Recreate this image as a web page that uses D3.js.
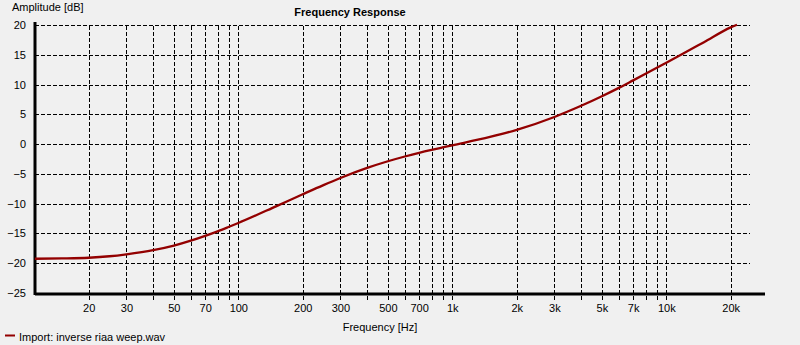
<!DOCTYPE html>
<html>
<head>
<meta charset="utf-8">
<script src="https://cdn.jsdelivr.net/npm/d3@7/dist/d3.min.js"></script>
<style>
  html, body { margin: 0; padding: 0; background: #f0f0f0; }
  svg { display: block; }
  text { font-family: "Liberation Sans", Arial, sans-serif; font-size: 11px; fill: #000; }
</style>
</head>
<body>
<svg id="chart" width="800" height="345"></svg>
<script>
// Measured response of the inverse RIAA sweep (frequency in Hz, level in dB)
const freqs = [11.2, 15, 20, 25, 30, 40, 50, 60, 70, 80, 90, 100, 150, 200, 250, 300,
  400, 500, 600, 700, 800, 900, 1000, 1500, 2000, 3000, 4000, 5000, 6000, 7000,
  8000, 9000, 10000, 12000, 15000, 20000, 21400];
const levels = [-19.25, -19.2, -19.08, -18.83, -18.5, -17.82, -17.05, -16.22, -15.41, -14.65,
  -13.92, -13.25, -10.45, -8.42, -6.88, -5.69, -4.0, -2.88, -2.08, -1.46, -0.97, -0.56, -0.2,
  1.2, 2.39, 4.56, 6.43, 8.03, 9.44, 10.7, 11.8, 12.78, 13.66, 15.2, 17.12, 19.6, 20.05];

// Grid frequencies and the subset that carries labels
const gridFreqs = [20, 30, 40, 50, 60, 70, 80, 90, 100, 200, 300, 400, 500, 600, 700, 800, 900,
  1000, 2000, 3000, 4000, 5000, 6000, 7000, 8000, 9000, 10000, 20000];
const freqTicks = [20, 30, 50, 70, 100, 200, 300, 500, 700, 1000, 2000, 3000, 5000, 7000, 10000, 20000];
const freqTickLabels = ["20", "30", "50", "70", "100", "200", "300", "500", "700", "1k", "2k", "3k", "5k", "7k", "10k", "20k"];
const dbTicks = [20, 15, 10, 5, 0, -5, -10, -15, -20, -25];

const seriesName = "Import: inverse riaa weep.wav";

const svg = d3.select("#chart");
const plotLeft = 35, plotRight = 750, plotTop = 25, plotBottom = 293;

const x = d3.scaleLog().domain([11.22, 24610]).range([plotLeft, plotRight]);
const y = d3.scaleLinear().domain([-25, 20]).range([plotBottom, plotTop]);

// Vertical dashed grid (extends a little below the axis as tick marks)
const vGrid = svg.append("g")
  .attr("transform", `translate(0,${plotBottom + 7})`)
  .call(d3.axisTop(x).tickValues(gridFreqs).tickSize(plotBottom + 7 - plotTop).tickFormat(""));
vGrid.select(".domain").remove();
vGrid.selectAll("line").attr("stroke", "#000").attr("stroke-dasharray", "4,2").attr("shape-rendering", "crispEdges");

// Horizontal dashed grid
const hGrid = svg.append("g")
  .attr("transform", `translate(${plotLeft},0)`)
  .call(d3.axisLeft(y).tickValues(dbTicks).tickSize(-(plotRight - plotLeft)).tickFormat(""));
hGrid.select(".domain").remove();
hGrid.selectAll("line").attr("stroke", "#000").attr("stroke-dasharray", "4,2").attr("shape-rendering", "crispEdges");

// Axis labels
const xAxis = svg.append("g")
  .attr("transform", `translate(0,${plotBottom + 1})`)
  .call(d3.axisBottom(x).tickValues(freqTicks).tickSize(0).tickPadding(10)
    .tickFormat((d, i) => freqTickLabels[i]));
xAxis.select(".domain").remove();
xAxis.selectAll("text").attr("font-family", "Liberation Sans, Arial, sans-serif").attr("font-size", 11).attr("fill", "#000");

const yAxis = svg.append("g")
  .attr("transform", `translate(${plotLeft},0)`)
  .call(d3.axisLeft(y).tickValues(dbTicks).tickSize(0).tickPadding(9).tickFormat(d3.format("d")));
yAxis.select(".domain").remove();
yAxis.selectAll("text").attr("font-family", "Liberation Sans, Arial, sans-serif").attr("font-size", 11).attr("fill", "#000");

// Solid axis lines
svg.append("line")
  .attr("x1", plotLeft).attr("x2", plotLeft).attr("y1", plotTop - 3).attr("y2", plotBottom + 2)
  .attr("stroke", "#000").attr("stroke-width", 3);
svg.append("line")
  .attr("x1", plotLeft).attr("x2", plotRight + 15).attr("y1", plotBottom + 1).attr("y2", plotBottom + 1)
  .attr("stroke", "#000").attr("stroke-width", 3);

// Response curve
const line = d3.line()
  .x((d, i) => x(freqs[i]))
  .y(d => y(d))
  .curve(d3.curveMonotoneX);
svg.append("path")
  .datum(levels)
  .attr("d", line)
  .attr("fill", "none")
  .attr("stroke", "#930000")
  .attr("stroke-width", 2.3);

// Titles
svg.append("text").attr("x", 350).attr("y", 16).attr("text-anchor", "middle")
  .attr("font-weight", "bold").text("Frequency Response");
svg.append("text").attr("x", 12).attr("y", 11).text("Amplitude [dB]");
svg.append("text").attr("x", 380).attr("y", 331).attr("text-anchor", "middle").text("Frequency [Hz]");

// Legend
svg.append("line").attr("x1", 5).attr("x2", 15).attr("y1", 335.5).attr("y2", 335.5)
  .attr("stroke", "#930000").attr("stroke-width", 2);
svg.append("text").attr("x", 19).attr("y", 340.5).text(seriesName);
</script>
</body>
</html>
